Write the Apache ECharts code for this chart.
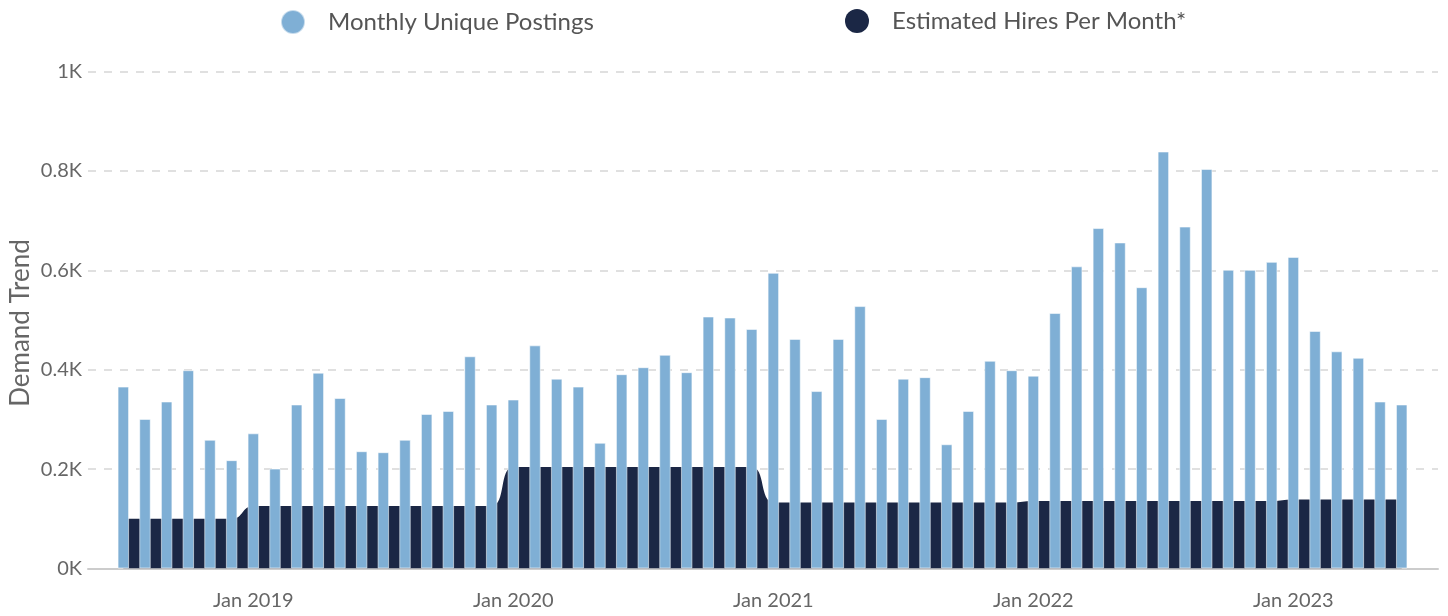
<!DOCTYPE html>
<html>
<head>
<meta charset="utf-8">
<script src="https://cdn.jsdelivr.net/npm/echarts@6/dist/echarts.min.js"></script>
<style>
html,body{margin:0;padding:0;background:#fff;}
#chart{width:1448px;height:616px;}
</style>
</head>
<body>
<div id="chart"></div>
<script>
const months = [
  'Jul 2018','Aug 2018','Sep 2018','Oct 2018','Nov 2018','Dec 2018',
  'Jan 2019','Feb 2019','Mar 2019','Apr 2019','May 2019','Jun 2019','Jul 2019','Aug 2019','Sep 2019','Oct 2019','Nov 2019','Dec 2019',
  'Jan 2020','Feb 2020','Mar 2020','Apr 2020','May 2020','Jun 2020','Jul 2020','Aug 2020','Sep 2020','Oct 2020','Nov 2020','Dec 2020',
  'Jan 2021','Feb 2021','Mar 2021','Apr 2021','May 2021','Jun 2021','Jul 2021','Aug 2021','Sep 2021','Oct 2021','Nov 2021','Dec 2021',
  'Jan 2022','Feb 2022','Mar 2022','Apr 2022','May 2022','Jun 2022','Jul 2022','Aug 2022','Sep 2022','Oct 2022','Nov 2022','Dec 2022',
  'Jan 2023','Feb 2023','Mar 2023','Apr 2023','May 2023','Jun 2023'
];
const monthlyUniquePostings = [
  366, 301, 336, 399, 259, 218,
  272, 201, 330, 394, 343, 236, 234, 259, 311, 317, 427, 330,
  340, 449, 382, 366, 253, 391, 405, 430, 395, 507, 505, 482,
  595, 462, 357, 462, 528, 301, 382, 385, 250, 317, 418, 399,
  388, 514, 608, 685, 656, 566, 839, 688, 804, 601, 601, 617,
  627, 478, 437, 424, 336, 330
];
const estimatedHiresPerMonth = [
  100, 100, 100, 100, 100, 100,
  126, 126, 126, 126, 126, 126, 126, 126, 126, 126, 126, 126,
  204, 204, 204, 204, 204, 204, 204, 204, 204, 204, 204, 204,
  133, 133, 133, 133, 133, 133, 133, 133, 133, 133, 133, 133,
  136, 136, 136, 136, 136, 136, 136, 136, 136, 136, 136, 136,
  139, 139, 139, 139, 139, 139
];
const xTickLabels = ['Jan 2019', 'Jan 2020', 'Jan 2021', 'Jan 2022', 'Jan 2023'];
const yTickLabels = ['0K', '0.2K', '0.4K', '0.6K', '0.8K', '1K'];
const seriesNames = ['Monthly Unique Postings', 'Estimated Hires Per Month*'];

const xTickIdx = xTickLabels.map(l => months.indexOf(l));
const barData = monthlyUniquePostings.map((v, i) => [i, v]);
const areaData = estimatedHiresPerMonth.map((v, i) => [i, v]);

const FONT = 'Lato';
const chart = echarts.init(document.getElementById('chart'), null, {renderer: 'canvas'});
chart.setOption({
  animation: false,
  backgroundColor: '#ffffff',
  textStyle: {fontFamily: FONT},
  legend: [
    {
      data: [seriesNames[0]], left: 275, top: 4, icon: 'circle',
      itemWidth: 24, itemHeight: 24,
      textStyle: {fontFamily: FONT, fontSize: 24, color: '#555555', padding: [0, 0, 0, 18]}
    },
    {
      data: [seriesNames[1]], left: 840, top: 4, icon: 'circle',
      itemWidth: 24, itemHeight: 24,
      textStyle: {fontFamily: FONT, fontSize: 24, color: '#555555', padding: [0, 0, 0, 18]}
    }
  ],
  grid: {left: 88, right: 10, top: 71.5, bottom: 47.5, containLabel: false, outerBoundsMode: 'none'},
  xAxis: {
    type: 'value',
    min: -1.63, max: 60.675,
    axisLine: {show: true, lineStyle: {color: '#cccccc', width: 2}},
    axisTick: {show: false},
    splitLine: {show: false},
    axisLabel: {
      customValues: xTickIdx,
      formatter: v => months[Math.round(v)],
      fontFamily: FONT, fontSize: 20, color: '#666666', margin: 22
    }
  },
  yAxis: {
    type: 'value', min: 0, max: 1000, interval: 200,
    name: 'Demand Trend', nameLocation: 'middle', nameGap: 54, nameRotate: 90,
    nameMoveOverlap: false,
    nameTextStyle: {fontFamily: FONT, fontSize: 26, color: '#666666', padding: [0, 6, 0, 0]},
    axisLine: {show: false}, axisTick: {show: false},
    axisLabel: {
      formatter: v => yTickLabels[Math.round(v / 200)],
      fontFamily: FONT, fontSize: 20, color: '#666666', margin: 6
    },
    splitLine: {show: true, lineStyle: {color: '#d6d6d6', width: 1.5, type: [8, 8]}}
  },
  series: [
    {
      name: seriesNames[1], type: 'line', data: areaData,
      smooth: 0.5, symbol: 'none', z: 1,
      itemStyle: {color: '#1b2745'},
      lineStyle: {width: 0, color: '#1b2745'},
      areaStyle: {color: '#1b2745', opacity: 1}
    },
    {
      name: seriesNames[0], type: 'bar', data: barData,
      barWidth: 11.5, z: 3,
      itemStyle: {color: '#7fafd5', borderColor: 'rgba(255,255,255,0.55)', borderWidth: 1}
    }
  ]
});
</script>
</body>
</html>
